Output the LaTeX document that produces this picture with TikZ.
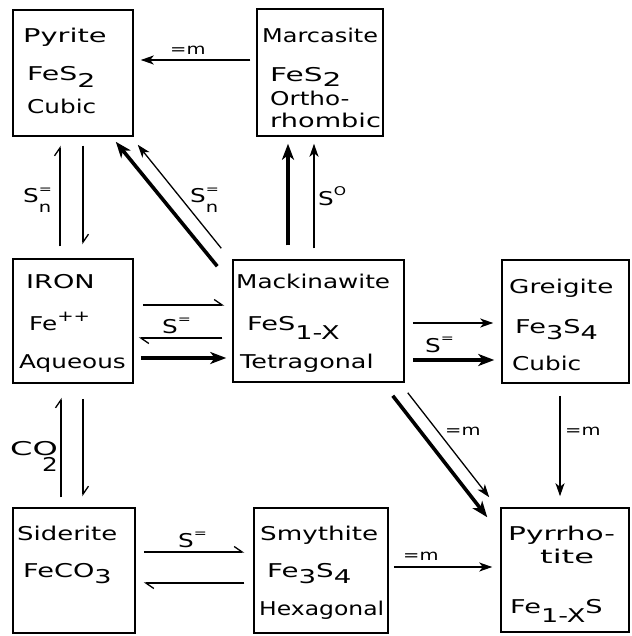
\documentclass[tikz,border=0pt]{standalone}
\usepackage{fontspec}
\setmainfont{DejaVu Sans}[FakeStretch=1.3]
\usetikzlibrary{arrows.meta}
\newcommand{\mysub}[1]{\raisebox{-0.33em}{#1}}
\newcommand{\mysubt}[1]{\raisebox{-0.22em}{#1}}
\newcommand{\mysubx}[1]{\raisebox{-0.5em}{#1}}
\newcommand{\mysup}[1]{\raisebox{0.5em}{\fontsize{12}{12}\selectfont #1}}
\newcommand{\mysupp}[1]{\raisebox{0.45em}{\fontsize{15}{15}\selectfont #1}}
\newcommand{\mysubsm}[1]{\raisebox{-0.5em}{\fontsize{15}{15}\selectfont #1}}
\newcommand{\xs}[2]{\scalebox{#1}[1]{#2}}
\begin{document}
\begin{tikzpicture}[x=1pt,y=-1pt,
  box/.style={draw,line width=1.5pt,inner sep=0pt,rectangle},
  txt/.style={anchor=base west,inner sep=0pt,font=\fontsize{19}{22}\selectfont},
  lab/.style={anchor=base west,inner sep=0pt,font=\fontsize{19}{22}\selectfont},
  labm/.style={anchor=base west,inner sep=0pt,font=\fontsize{15}{18}\selectfont},
  arrlite/.style={line width=1.3pt,-{Stealth[length=13pt,width=9pt,inset=3.5pt]}},
  arrheavy/.style={line width=3.6pt,-{Stealth[length=16pt,width=12pt,inset=4.5pt]}},
  harp/.style={line width=1.3pt,-{Straight Barb[harpoon,length=8pt,width=11pt]}}]
\useasboundingbox (0,0) rectangle (631,636);
\fill[white] (0,0) rectangle (631,636);
% boxes
\node[box,minimum width=120pt,minimum height=126pt] (pyr) at (73,73) {};
\node[box,minimum width=126pt,minimum height=127pt] (marc) at (320,72.5) {};
\node[box,minimum width=120pt,minimum height=124pt] (iron) at (73,321) {};
\node[box,minimum width=171pt,minimum height=122pt] (mack) at (318.5,321) {};
\node[box,minimum width=127pt,minimum height=123pt] (greig) at (565.5,321.5) {};
\node[box,minimum width=122pt,minimum height=125pt] (sid) at (74,570.5) {};
\node[box,minimum width=134pt,minimum height=125pt] (smy) at (321,570.5) {};
\node[box,minimum width=128pt,minimum height=124pt] (pyrr) at (565,570) {};
% box texts
\node[txt] (pyrA) at (23,43) {\xs{1.17}{Pyrite}};
\node[txt] (pyrB) at (27,81) {\xs{1.15}{FeS\mysub{2}}};
\node[txt] (pyrC) at (27,114) {Cubic};
\node[txt] (marcA) at (262,43) {\xs{0.97}{Marcasite}};
\node[txt] (marcB) at (270,82) {\xs{1.2}{FeS\mysubt{2}}};
\node[txt] (marcC) at (270,106) {Ortho-};
\node[txt] (marcD) at (270,128) {\xs{1.1}{rhombic}};
\node[txt] (ironA) at (26,288) {\xs{1.1}{IRON}};
\node[txt] (ironB) at (29,330) {Fe\mysupp{++}};
\node[txt] (ironC) at (19,368) {Aqueous};
\node[txt] (mackA) at (236,288) {Mackinawite};
\node[txt] (mackB) at (247,330) {\xs{1.1}{FeS\mysubx{1-X}}};
\node[txt] (mackC) at (240,368) {\xs{1.03}{Tetragonal}};
\node[txt] (greigA) at (509,293) {\xs{1.06}{Greigite}};
\node[txt] (greigB) at (515,333) {\xs{1.1}{Fe\mysub{3}S\mysub{4}}};
\node[txt] (greigC) at (512,370) {Cubic};
\node[txt] (sidA) at (17,540) {\xs{1.05}{Siderite}};
\node[txt] (sidB) at (23,577) {\xs{1.1}{FeCO\mysub{3}}};
\node[txt] (smyA) at (260,540) {\xs{1.06}{Smythite}};
\node[txt] (smyB) at (267,577) {\xs{1.12}{Fe\mysub{3}S\mysub{4}}};
\node[txt] (smyC) at (259,615) {\xs{0.95}{Hexagonal}};
\node[txt] (pyrrA) at (508,540) {\xs{1.2}{Pyrrho-}};
\node[txt] (pyrrB) at (540,563) {\xs{1.3}{tite}};
\node[txt] (pyrrC) at (510,613) {\xs{1.1}{Fe\mysubx{1-X}S}};
% labels
\node[labm] (l1) at (170,55) {=m};
\node[lab] (l2) at (23,203) {S\rlap{\mysup{=}}\mysubsm{n}};
\node[lab] (l3) at (190,203) {S\rlap{\mysup{=}}\mysubsm{n}};
\node[lab] (l4) at (318,205) {S\mysup{O}};
\node[lab] (l5) at (162,333) {S\mysup{=}};
\node[lab] (l6) at (425,352) {S\mysup{=}};
\node[labm] (l7) at (445,435) {=m};
\node[labm] (l8) at (565,435) {=m};
\node[lab] (l9) at (10,455) {\xs{1.3}{CO}\llap{\raisebox{-16pt}{2}}};
\node[lab] (l10) at (178,547) {S\mysup{=}};
\node[labm] (l11) at (403,560) {=m};
% connectors
\draw[arrlite] ([xshift=-6pt,yshift=12.5pt]marc.west) -- ([xshift=7pt,yshift=13pt]pyr.east);
\draw[harp] ([xshift=-13pt,yshift=12pt]iron.north) -- ([xshift=-13pt,yshift=-9pt]pyr.south);
\draw[harp] ([xshift=10pt,yshift=-9pt]pyr.south) -- ([xshift=10pt,yshift=14pt]iron.north);
\draw[arrheavy] ([xshift=-15pt,yshift=-7pt]mack.north west) -- ([xshift=-18pt,yshift=-5pt]pyr.south east);
\draw[arrlite] ([xshift=-11pt,yshift=11pt]mack.north west) -- ([xshift=4pt,yshift=-8pt]pyr.south east);
\draw[arrheavy] ([xshift=-30.5pt,yshift=14pt]mack.north) -- ([xshift=-32pt,yshift=-7pt]marc.south);
\draw[arrlite] ([xshift=-4.5pt,yshift=11pt]mack.north) -- ([xshift=-6pt,yshift=-7pt]marc.south);
\draw[harp] ([xshift=9pt,yshift=16pt]iron.east) -- ([xshift=-8pt,yshift=16pt]mack.west);
\draw[harp] ([xshift=-10pt,yshift=-17pt]mack.west) -- ([xshift=5pt,yshift=-17pt]iron.east);
\draw[arrheavy] ([xshift=7pt,yshift=-37pt]iron.east) -- ([xshift=-6pt,yshift=-37pt]mack.west);
\draw[arrlite] ([xshift=8pt,yshift=-2pt]mack.east) -- ([xshift=-8pt,yshift=-1.5pt]greig.west);
\draw[arrheavy] ([xshift=8pt,yshift=-39pt]mack.east) -- ([xshift=-7pt,yshift=-38.5pt]greig.west);
\draw[arrheavy] ([xshift=-12pt,yshift=-13pt]mack.south east) -- ([xshift=-13pt,yshift=-10pt]pyrr.north west);
\draw[arrlite] ([xshift=3pt,yshift=-10pt]mack.south east) -- ([xshift=-11pt,yshift=10pt]pyrr.north west);
\draw[arrlite] ([xshift=-5.5pt,yshift=-12pt]greig.south) -- ([xshift=-5pt,yshift=11pt]pyrr.north);
\draw[harp] ([xshift=-13pt,yshift=10pt]sid.north) -- ([xshift=-12pt,yshift=-14pt]iron.south);
\draw[harp] ([xshift=10pt,yshift=-15pt]iron.south) -- ([xshift=9pt,yshift=11pt]sid.north);
\draw[harp] ([xshift=8pt,yshift=18.5pt]sid.east) -- ([xshift=-9pt,yshift=18.5pt]smy.west);
\draw[harp] ([xshift=-9pt,yshift=-12.5pt]smy.west) -- ([xshift=8pt,yshift=-12.5pt]sid.east);
\draw[arrlite] ([xshift=5pt,yshift=3.5pt]smy.east) -- ([xshift=-8pt,yshift=3pt]pyrr.west);
\end{tikzpicture}
\end{document}
